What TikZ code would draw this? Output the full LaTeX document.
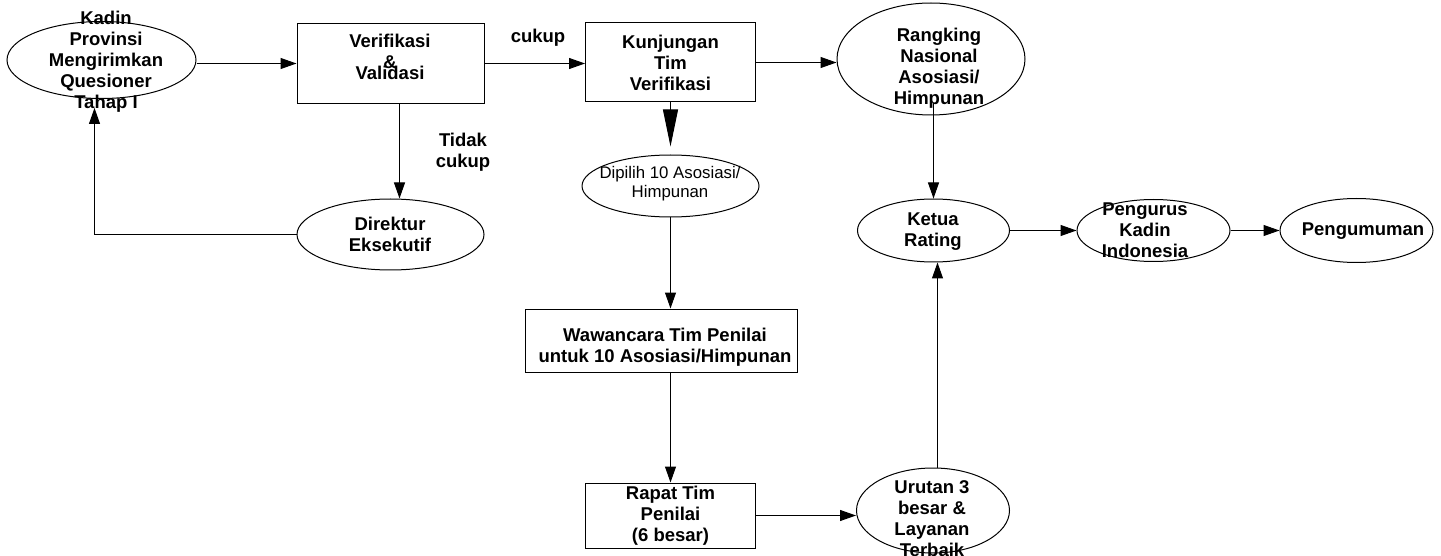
\documentclass[tikz,border=0pt]{standalone}
\usepackage{fontspec}
\setmainfont{Liberation Sans}
\usetikzlibrary{shapes.geometric,arrows.meta,positioning}

\tikzset{
  box/.style={draw, rectangle, inner sep=0pt, align=center, font=\bfseries\fontsize{18.5}{21}\selectfont},
  oval/.style={draw, ellipse, inner sep=0pt},
  lbl/.style={align=center, inner sep=0pt, font=\bfseries\fontsize{18.5}{21}\selectfont},
  arr/.style={-{Triangle[length=16pt,width=11pt]}},
  bigarr/.style={-{Triangle[length=37pt,width=15pt]}, shorten >=8pt},
}

\begin{document}
\begin{tikzpicture}[x=1pt, y=-1pt, line width=1pt]
	\fill[white] (0,0) rectangle (1441,556);
	\useasboundingbox (0,0) rectangle (1441,556);

	%% top row
	\node[oval, minimum width=189, minimum height=77] (kadin) at (101.5,60) {};
	\node[lbl] (kadin-t) at (106,62) {Kadin\\Provinsi\\Mengirimkan\\Quesioner\\Tahap I};
	\coordinate (kadin-in) at (94.5,108);

	\node[box, minimum width=187, minimum height=80] (verif) at (390.5,63.5) {};
	\node[lbl] (verif-t) at (390,57) {Verifikasi\\\&\\[-10pt]Validasi};

	\node[box, minimum width=170, minimum height=79] (kunj) at (670.5,62.5) {Kunjungan\\Tim\\Verifikasi};

	\node[oval, minimum width=188, minimum height=112] (rank) at (931,59) {};
	\node[lbl] (rank-t) at (939,68) {Rangking\\Nasional\\Asosiasi/\\Himpunan};

	\node[lbl] (cukup) at (538,38) {cukup};
	\node[lbl] (tidak) at (463,152) {Tidak\\cukup};

	%% middle row
	\node[oval, minimum width=187, minimum height=71] (dir) at (390.5,234.5) {};
	\node[lbl] (dir-t) at (390,234) {Direktur\\Eksekutif};

	\node[oval, minimum width=177, minimum height=62] (dipilih) at (670.5,186) {};
	\node[align=center, inner sep=0pt, font=\fontsize{16.8}{19}\selectfont] (dipilih-t) at (670,184) {Dipilih 10 Asosiasi/\\Himpunan};

	\node[oval, minimum width=152, minimum height=63] (ketua) at (933.5,230.5) {};
	\node[lbl] (ketua-t) at (933,231.5) {Ketua\\Rating};

	\node[oval, minimum width=153, minimum height=62] (peng) at (1153.5,230.5) {};
	\node[lbl] (peng-t) at (1145,230) {Pengurus\\Kadin\\Indonesia};

	\node[oval, minimum width=153, minimum height=64] (umum) at (1356.5,230.5) {};
	\node[lbl] (umum-t) at (1363,231) {Pengumuman};

	%% bottom part
	\node[box, minimum width=272, minimum height=63] (waw) at (661,340.5) {};
	\node[lbl] (waw-t) at (665,347.5) {Wawancara Tim Penilai\\untuk 10 Asosiasi/Himpunan};

	\node[box, minimum width=170, minimum height=65] (rapat) at (670.5,515.5) {Rapat Tim\\Penilai\\(6 besar)};

	\node[oval, minimum width=153, minimum height=85] (urut) at (933,510.5) {};
	\node[lbl] (urut-t) at (932,518.5) {Urutan 3\\besar \&\\Layanan\\Terbaik};

	%% connectors
	\draw[arr] (kadin.east |- verif.west) -- (verif.west);
	\draw[arr] (verif.east) -- (verif.east -| kunj.west);
	\draw[arr] ([xshift=9pt]verif.south) -- ([xshift=9pt]verif.south |- dir.north);
	\draw[arr] (dir.west) -| (kadin-in);
	\draw[arr] (kunj.east) -- (kunj.east -| rank.west);
	\draw[bigarr] (kunj.south) -- (dipilih.north);
	\draw[arr] (dipilih.south) -- (dipilih.south |- waw.north);
	\draw[arr] (rapat.north |- waw.south) -- (rapat.north);
	\draw[arr] (rapat.east) -- (rapat.east -| urut.west);
	\draw[arr] ([xshift=4.5pt]urut.north) -- ([xshift=4pt]ketua.south);
	\draw[arr] ([yshift=12pt]rank.south -| ketua.north) -- (ketua.north);
	\draw[arr] (ketua.east) -- (peng.west);
	\draw[arr] (peng.east) -- (umum.west);
\end{tikzpicture}
\end{document}
